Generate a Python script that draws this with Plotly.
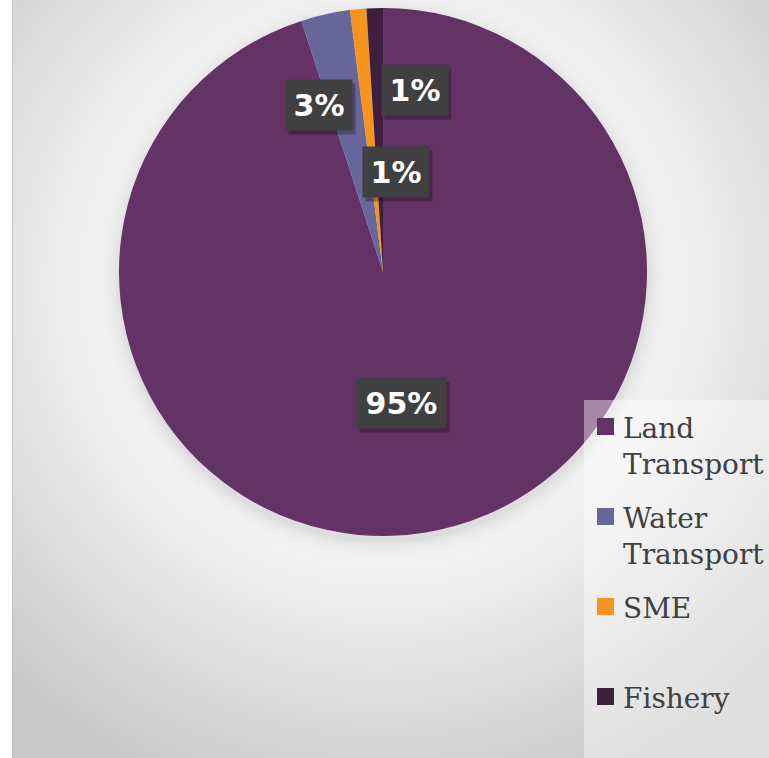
import base64
import struct
import zlib

import numpy as np
import plotly.graph_objects as go

# ---- data -------------------------------------------------------------
categories = ["Land Transport", "Water Transport", "SME", "Fishery"]
shares = [95, 3, 1, 1]
legend_text = ["Land<br>Transport", "Water<br>Transport", "SME", "Fishery"]

# ---- styling / layout -------------------------------------------------
slice_colors = ["#643366", "#67679B", "#F7941E", "#3F1F3F"]
W, H = 769, 758
CX, CY, R = 383, 272, 264            # pie centre and radius in pixels

# centres of the percentage boxes (pixels), one per slice
label_centres = [(401.5, 403), (318.5, 104.5), (395.5, 172), (415, 89.5)]
LABEL_H = 50

# legend geometry (pixels)
legend_box = (584, 400, W, H)
legend_rows = [418, 508, 598, 688]    # top of each swatch
swatch_x, swatch_size, legend_text_x = 597, 17, 622


def px(x):
    return x / W


def py(y):
    return 1 - y / H


def background_png():
    """Soft grey backdrop brightening around the pie, with a faint drop shadow."""
    yy, xx = np.mgrid[0:H, 0:W].astype(float)
    d = np.hypot(xx - CX, yy - (CY + 10)) - R
    d = np.clip(d, 0, None)
    lum = 247 - 0.165 * d
    ds = np.clip(np.hypot(xx - CX, yy - (CY + 5)) - R, 0, None)
    lum -= 26 * np.exp(-ds / 9)
    lum = np.clip(lum, 201, 255)
    lum[:, :12] = 255
    lum[:, 12] = 196
    img = lum.astype(np.uint8)
    raw = b"".join(b"\x00" + row.tobytes() for row in img)

    def chunk(tag, data):
        c = struct.pack(">I", len(data)) + tag + data
        return c + struct.pack(">I", zlib.crc32(tag + data) & 0xFFFFFFFF)

    png = b"\x89PNG\r\n\x1a\n"
    png += chunk(b"IHDR", struct.pack(">IIBBBBB", W, H, 8, 0, 0, 0, 0))
    png += chunk(b"IDAT", zlib.compress(raw, 9))
    png += chunk(b"IEND", b"")
    return "data:image/png;base64," + base64.b64encode(png).decode()


total = sum(shares)
pct_text = [f"{round(v / total * 100)}%" for v in shares]

fig = go.Figure(
    go.Pie(
        labels=categories,
        values=shares,
        sort=False,
        direction="clockwise",
        rotation=0,
        marker=dict(colors=slice_colors, line=dict(width=0)),
        textinfo="none",
        showlegend=False,
        domain=dict(x=[px(CX - R), px(CX + R)], y=[py(CY + R), py(CY - R)]),
    )
)

annotations = []
for (lx, ly), txt in zip(label_centres, pct_text):
    box_w = 20 + 23 * len(txt)
    # drop shadow behind the box
    annotations.append(dict(
        x=px(lx), y=py(ly), xref="paper", yref="paper", showarrow=False,
        text=" ", width=box_w, height=LABEL_H, borderpad=0,
        bgcolor="rgba(0,0,0,0.28)", xshift=3, yshift=-4,
        xanchor="center", yanchor="middle",
    ))
    annotations.append(dict(
        x=px(lx), y=py(ly), xref="paper", yref="paper", showarrow=False,
        text=txt, width=box_w, height=LABEL_H, borderpad=0,
        bgcolor="#404040",
        font=dict(family="DejaVu Sans", size=30, color="white", weight="bold"),
        xanchor="center", yanchor="middle", align="center",
    ))

shapes = [dict(
    type="rect", xref="paper", yref="paper", layer="above",
    x0=px(legend_box[0]), x1=px(legend_box[2]),
    y0=py(legend_box[3]), y1=py(legend_box[1]),
    fillcolor="rgba(255,255,255,0.42)", line=dict(width=0),
)]

for top, txt, col in zip(legend_rows, legend_text, slice_colors):
    shapes.append(dict(
        type="rect", xref="paper", yref="paper", layer="above",
        x0=px(swatch_x), x1=px(swatch_x + swatch_size),
        y0=py(top + swatch_size), y1=py(top),
        fillcolor=col, line=dict(width=0),
    ))
    annotations.append(dict(
        x=px(legend_text_x), y=py(top - 7), xref="paper", yref="paper",
        showarrow=False, text=txt, align="left",
        xanchor="left", yanchor="top", borderpad=0,
        font=dict(family="DejaVu Serif", size=28, color="#404040"),
    ))

fig.update_layout(
    width=W, height=H,
    margin=dict(l=0, r=0, t=0, b=0),
    paper_bgcolor="#dcdcdc",
    plot_bgcolor="rgba(0,0,0,0)",
    images=[dict(
        source=background_png(), xref="paper", yref="paper",
        x=0, y=1, sizex=1, sizey=1, sizing="stretch", layer="below",
        xanchor="left", yanchor="top",
    )],
    shapes=shapes,
    annotations=annotations,
)

fig.write_html("out.html")
